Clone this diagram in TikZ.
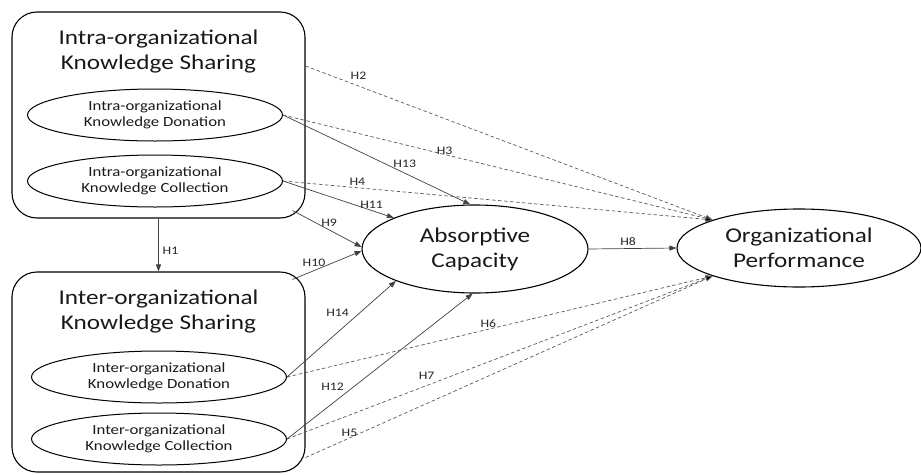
\documentclass[tikz,border=0pt]{standalone}
\usepackage{fontspec}
\setmainfont{Carlito}[FakeStretch=1.2]
\usetikzlibrary{arrows.meta,shapes.geometric}
\begin{document}
\begin{tikzpicture}[x=1pt,y=-1pt,
  bigbox/.style={draw, line width=1.1pt, rounded corners=25pt, minimum width=293pt, inner sep=0pt},
  ttl/.style={align=center, font=\fontsize{21}{25}\selectfont, text=black!90},
  subell/.style={draw, ellipse, line width=1pt, inner sep=0pt, minimum width=255pt, minimum height=52pt, align=center, font=\fontsize{14}{16}\selectfont, text=black!90},
  mainell/.style={draw, ellipse, line width=1.1pt, inner sep=0pt, align=center, font=\fontsize{21}{25}\selectfont, text=black!90},
  sol/.style={draw=black!75, line width=0.7pt, -{Triangle[length=7pt,width=5pt]}},
  dsh/.style={draw=black!65, line width=0.7pt, dash pattern=on 3.5pt off 2.5pt, -{Triangle[length=7pt,width=5pt,fill=black]}},
  lab/.style={font=\fontsize{11.5}{12}\selectfont, text=black!85, inner sep=0.5pt}]
\useasboundingbox (0,0) rectangle (921,474);

% containers
\node[bigbox, minimum height=206pt] (tb) at (158.5,115) {};
\node[bigbox, minimum height=200pt] (bb) at (158.5,372) {};
\node[ttl] (t1) at (158.5,52) {Intra-organizational\\Knowledge Sharing};
\node[ttl] (t2) at (158.5,312) {Inter-organizational\\Knowledge Sharing};

% sub-constructs
\node[subell] (d1) at (155,115) {Intra-organizational\\Knowledge Donation};
\node[subell] (d2) at (155,181) {Intra-organizational\\Knowledge Collection};
\node[subell] (e1) at (159,377) {Inter-organizational\\Knowledge Donation};
\node[subell] (e2) at (159,439) {Inter-organizational\\Knowledge Collection};

% main constructs
\node[mainell, minimum width=226pt, minimum height=88pt] (ac) at (475,249) {Absorptive\\Capacity};
\node[mainell, minimum width=244pt, minimum height=78pt] (op) at (799,248) {Organizational\\Performance};

% H1
\draw[sol] (tb.south) -- node[lab, pos=.61, xshift=12pt] (lH1) {H1} (bb.north);

% paths to absorptive capacity
\draw[sol] (d1.east) -- node[lab, pos=.65, yshift=9pt] (lH13) {H13} (ac.96);
\draw[sol] (d2.east) -- node[lab, pos=.8, yshift=6pt] (lH11) {H11} (ac.159);
\draw[sol] ([xshift=-13pt,yshift=8pt]tb.south east) -- node[lab, pos=.53, yshift=7pt] (lH9) {H9} (ac.179);
\draw[sol] ([xshift=-13pt,yshift=-8pt]bb.north east) -- node[lab, pos=.31, yshift=8pt] (lH10) {H10} (ac.181);
\draw[sol] (e1.east) -- node[lab, pos=.667, xshift=-22pt] (lH14) {H14} (ac.202);
\draw[sol] (e2.east) -- node[lab, pos=.359, xshift=-21pt] (lH12) {H12} (ac.267.5);

% absorptive capacity to performance
\draw[sol] (ac.east) -- node[lab, pos=.45, yshift=7pt] (lH8) {H8} (op.west);

% direct paths to performance
\draw[dsh] ([yshift=49pt]tb.east) -- node[lab, pos=.13, yshift=10pt] (lH2) {H2} (op.162.5);
\draw[dsh] (d1.east) -- node[lab, pos=.376, yshift=4pt] (lH3) {H3} (op.162.5);
\draw[dsh] (d2.east) -- node[lab, pos=.173, yshift=6pt] (lH4) {H4} (op.162.5);
\draw[dsh] (e1.east) -- node[lab, pos=.473, yshift=5.5pt] (lH6) {H6} (op.198.4);
\draw[dsh] (e2.east) -- node[lab, pos=.328, yshift=10pt] (lH7) {H7} (op.198.4);
\draw[dsh] ([yshift=15pt]bb.south east) -- node[lab, pos=.108, yshift=5.5pt] (lH5) {H5} (op.198.4);
\end{tikzpicture}
\end{document}
